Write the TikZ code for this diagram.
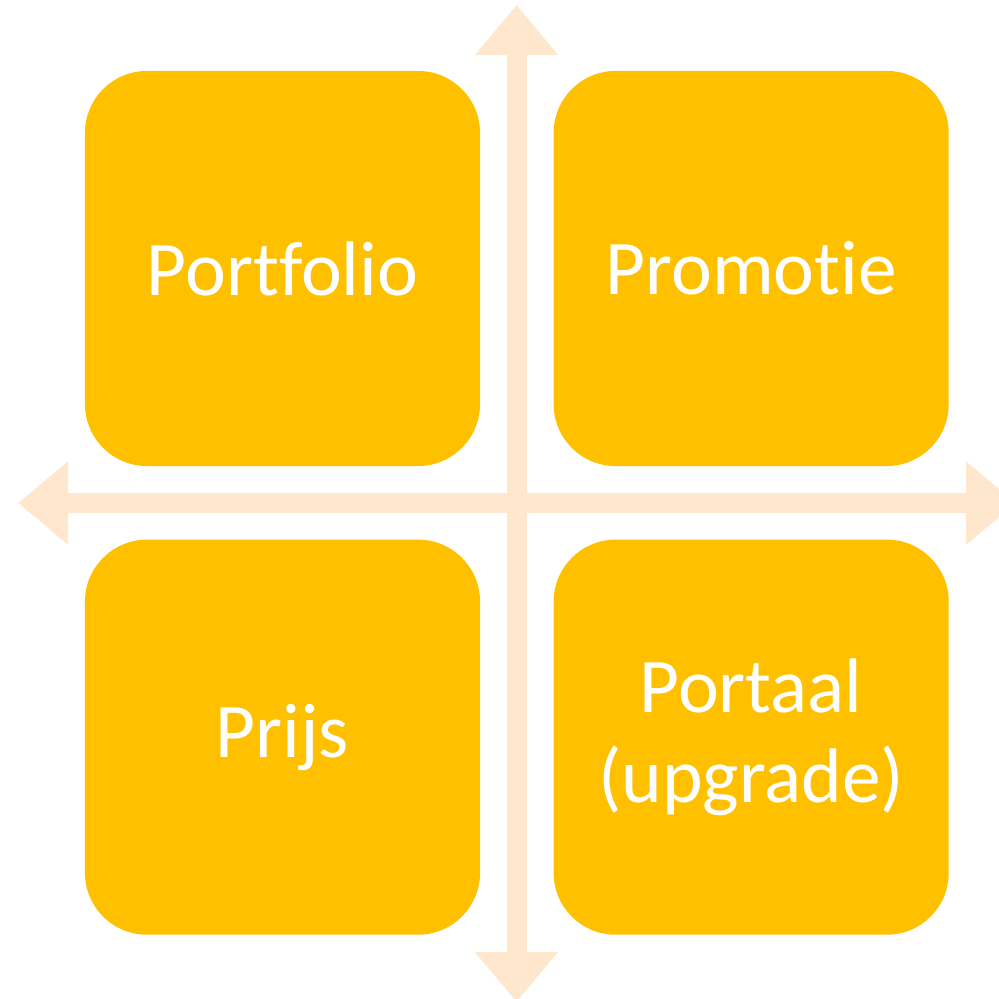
\documentclass[tikz,border=0pt]{standalone}
\usepackage{fontspec}
\setmainfont[Ligatures={NoCommon}]{Carlito}
\usetikzlibrary{arrows.meta, positioning}
\definecolor{BoxGold}{RGB}{255, 192, 0}
\definecolor{AxisPeach}{RGB}{255, 231, 205}

\begin{document}
\begin{tikzpicture}[
    x=0.025cm, y=-0.025cm,
    node distance=1.825cm,
    quad/.style={rectangle, fill=BoxGold, minimum width=9.875cm, minimum height=9.875cm, rounded corners=1.55cm, text=white, align=center, inner sep=0pt, font=\fontsize{55}{64}\selectfont},
    axis/.style={draw=AxisPeach, line width=0.5cm, {Triangle[length=1.25cm, width=2cm]}-{Triangle[length=1.25cm, width=2cm]}}
]
    \useasboundingbox (0,0) rectangle (999,999);

    % Axis ends
    \coordinate (top) at (516.5,5);
    \coordinate (bottom) at (516.5,1002);
    \coordinate (left) at (18,503);
    \coordinate (right) at (1016,503);

    % Cross of arrows
    \draw [axis] (top) -- (bottom);
    \draw [axis] (left) -- (right);

    % Quadrant boxes
    \node (portfolio) [quad] at (282.5,268.5) {Portfolio};
    \node (promotie) [quad, right=of portfolio] {Promotie};
    \node (prijs) [quad, below=of portfolio] {Prijs};
    \node (portaal) [quad, right=of prijs] {Portaal\\(upgrade)};

\end{tikzpicture}
\end{document}
